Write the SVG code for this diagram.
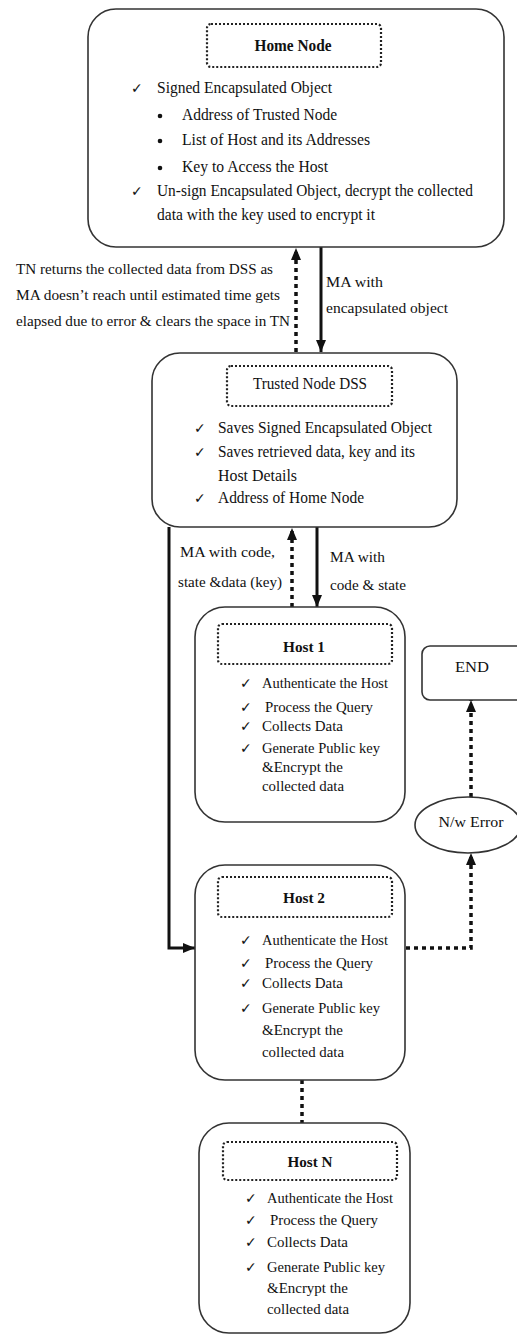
<svg xmlns="http://www.w3.org/2000/svg" width="517" height="1336" viewBox="0 0 517 1336">
<style>
.box{fill:#fff;stroke:#333;stroke-width:1.6}
.ttl{fill:none;stroke:#222;stroke-width:2.2;stroke-dasharray:2 2}
.t{font-family:"Liberation Serif","Times New Roman",serif;font-size:16px;fill:#111}
.s{font-family:"Liberation Serif","Times New Roman",serif;font-size:15px;fill:#111}
.b{font-weight:bold}
.c{text-anchor:middle}
.ck{font-family:"DejaVu Sans",sans-serif;font-size:14px;fill:#111}
.solid{fill:none;stroke:#111;stroke-width:3}
.dot{fill:none;stroke:#111;stroke-width:3.5;stroke-dasharray:4 4}
</style>
<defs>
<marker id="ah" viewBox="0 0 12 10" refX="12" refY="5" markerWidth="12" markerHeight="10" markerUnits="userSpaceOnUse" orient="auto">
<path d="M0,0 L12,5 L0,10 z" fill="#111"/>
</marker>
</defs>
<g id="connectors">
<line class="solid" x1="321" y1="247" x2="321" y2="352" marker-end="url(#ah)"/>
<line class="dot" x1="296" y1="352" x2="296" y2="248" marker-end="url(#ah)"/>
<line class="solid" x1="317" y1="527" x2="317" y2="607" marker-end="url(#ah)"/>
<line class="dot" x1="292" y1="607" x2="292" y2="528" marker-end="url(#ah)"/>
<path class="solid" d="M169,527 V948 H195" stroke-width="3.5" marker-end="url(#ah)"/>
<path class="dot" d="M406,948 H471 V853" marker-end="url(#ah)"/>
<line class="dot" x1="471" y1="797" x2="471" y2="700" marker-end="url(#ah)"/>
<line class="dot" x1="302" y1="1080" x2="302" y2="1123" stroke-width="3" stroke-dasharray="3 7"/>
<text class="s" x="16" y="274" textLength="257" lengthAdjust="spacingAndGlyphs">TN returns the collected data from DSS as</text>
<text class="s" x="16" y="300" textLength="264" lengthAdjust="spacingAndGlyphs">MA doesn’t reach until estimated time gets</text>
<text class="s" x="16" y="326" textLength="274" lengthAdjust="spacingAndGlyphs">elapsed due to error &amp; clears  the space in TN</text>
<text class="s" x="326" y="287" textLength="57" lengthAdjust="spacingAndGlyphs">MA with</text>
<text class="s" x="326" y="313" textLength="122" lengthAdjust="spacingAndGlyphs">encapsulated object</text>
<text class="s" x="180" y="557" textLength="95" lengthAdjust="spacingAndGlyphs">MA with code,</text>
<text class="s" x="178" y="587" textLength="104" lengthAdjust="spacingAndGlyphs">state &amp;data (key)</text>
<text class="s" x="330" y="562" textLength="55" lengthAdjust="spacingAndGlyphs">MA with</text>
<text class="s" x="330" y="590" textLength="76" lengthAdjust="spacingAndGlyphs">code &amp; state</text>
</g>
<g id="home">
<rect class="box" x="88" y="9" width="416" height="238" rx="28"/>
<rect class="ttl" x="207" y="24" width="174" height="43" rx="4"/>
<text class="t b c" x="293" y="51" textLength="77" lengthAdjust="spacingAndGlyphs">Home Node</text>
<text class="ck" x="131" y="93">✓</text>
<text class="t" x="157" y="93" textLength="175" lengthAdjust="spacingAndGlyphs">Signed Encapsulated Object</text>
<circle cx="160" cy="116" r="2.3" fill="#111"/>
<text class="t" x="182" y="120" textLength="155" lengthAdjust="spacingAndGlyphs">Address of Trusted Node</text>
<circle cx="160" cy="141" r="2.3" fill="#111"/>
<text class="t" x="182" y="145" textLength="188" lengthAdjust="spacingAndGlyphs">List of Host and its Addresses</text>
<circle cx="160" cy="168" r="2.3" fill="#111"/>
<text class="t" x="182" y="172" textLength="146" lengthAdjust="spacingAndGlyphs">Key to Access the Host</text>
<text class="ck" x="131" y="196">✓</text>
<text class="t" x="157" y="196" textLength="316" lengthAdjust="spacingAndGlyphs">Un-sign Encapsulated Object, decrypt the collected</text>
<text class="t" x="157" y="220" textLength="218" lengthAdjust="spacingAndGlyphs">data with the key used to encrypt it</text>
</g>
<g id="trusted">
<rect class="box" x="152" y="353" width="305" height="174" rx="28"/>
<rect class="ttl" x="227" y="366" width="165" height="40" rx="4"/>
<text class="t" x="253" y="389" textLength="114" lengthAdjust="spacingAndGlyphs">Trusted Node DSS</text>
<text class="ck" x="194" y="433">✓</text>
<text class="t" x="218" y="433" textLength="214" lengthAdjust="spacingAndGlyphs">Saves Signed Encapsulated Object</text>
<text class="ck" x="194" y="457">✓</text>
<text class="t" x="218" y="457" textLength="197" lengthAdjust="spacingAndGlyphs">Saves retrieved data, key and its</text>
<text class="t" x="218" y="481" textLength="79" lengthAdjust="spacingAndGlyphs">Host Details</text>
<text class="ck" x="194" y="503">✓</text>
<text class="t" x="218" y="503" textLength="146" lengthAdjust="spacingAndGlyphs">Address of Home Node</text>
</g>
<g id="host1">
<rect class="box" x="195" y="607" width="210" height="215" rx="30"/>
<rect class="ttl" x="218" y="624" width="174" height="40" rx="4"/>
<text class="s b c" x="304" y="652" textLength="42" lengthAdjust="spacingAndGlyphs">Host 1</text>
<text class="ck" x="240" y="688">✓</text>
<text class="s" x="262" y="688" textLength="126" lengthAdjust="spacingAndGlyphs">Authenticate the Host</text>
<text class="ck" x="240" y="712">✓</text>
<text class="s" x="265" y="712" textLength="108" lengthAdjust="spacingAndGlyphs">Process the Query</text>
<text class="ck" x="240" y="731">✓</text>
<text class="s" x="262" y="731" textLength="81" lengthAdjust="spacingAndGlyphs">Collects Data</text>
<text class="ck" x="240" y="753">✓</text>
<text class="s" x="262" y="753" textLength="118" lengthAdjust="spacingAndGlyphs">Generate Public key</text>
<text class="s" x="262" y="772" textLength="81" lengthAdjust="spacingAndGlyphs">&amp;Encrypt the</text>
<text class="s" x="262" y="791" textLength="82" lengthAdjust="spacingAndGlyphs">collected data</text>
</g>
<g id="end">
<rect class="box" x="422" y="646" width="110" height="54" rx="8"/>
<text class="s c" x="472" y="672" textLength="34" lengthAdjust="spacingAndGlyphs">END</text>
</g>
<g id="error">
<ellipse class="box" cx="468" cy="825" rx="53" ry="28"/>
<text class="s c" x="471" y="827" textLength="65" lengthAdjust="spacingAndGlyphs">N/w Error</text>
</g>
<g id="host2">
<rect class="box" x="195" y="865" width="210" height="215" rx="30"/>
<rect class="ttl" x="218" y="877" width="174" height="40" rx="4"/>
<text class="s b c" x="304" y="903" textLength="42" lengthAdjust="spacingAndGlyphs">Host 2</text>
<text class="ck" x="240" y="945">✓</text>
<text class="s" x="262" y="945" textLength="126" lengthAdjust="spacingAndGlyphs">Authenticate the Host</text>
<text class="ck" x="240" y="968">✓</text>
<text class="s" x="265" y="968" textLength="108" lengthAdjust="spacingAndGlyphs">Process the Query</text>
<text class="ck" x="240" y="988">✓</text>
<text class="s" x="262" y="988" textLength="81" lengthAdjust="spacingAndGlyphs">Collects Data</text>
<text class="ck" x="240" y="1013">✓</text>
<text class="s" x="262" y="1013" textLength="118" lengthAdjust="spacingAndGlyphs">Generate Public key</text>
<text class="s" x="262" y="1035" textLength="81" lengthAdjust="spacingAndGlyphs">&amp;Encrypt the</text>
<text class="s" x="262" y="1057" textLength="82" lengthAdjust="spacingAndGlyphs">collected data</text>
</g>
<g id="hostN">
<rect class="box" x="199" y="1123" width="211" height="210" rx="30"/>
<rect class="ttl" x="223" y="1142" width="174" height="38" rx="4"/>
<text class="s b c" x="310" y="1167" textLength="45" lengthAdjust="spacingAndGlyphs">Host N</text>
<text class="ck" x="245" y="1203">✓</text>
<text class="s" x="267" y="1203" textLength="126" lengthAdjust="spacingAndGlyphs">Authenticate the Host</text>
<text class="ck" x="245" y="1225">✓</text>
<text class="s" x="270" y="1225" textLength="108" lengthAdjust="spacingAndGlyphs">Process the Query</text>
<text class="ck" x="245" y="1247">✓</text>
<text class="s" x="267" y="1247" textLength="81" lengthAdjust="spacingAndGlyphs">Collects Data</text>
<text class="ck" x="245" y="1272">✓</text>
<text class="s" x="267" y="1272" textLength="118" lengthAdjust="spacingAndGlyphs">Generate Public key</text>
<text class="s" x="267" y="1293" textLength="81" lengthAdjust="spacingAndGlyphs">&amp;Encrypt the</text>
<text class="s" x="267" y="1314" textLength="82" lengthAdjust="spacingAndGlyphs">collected data</text>
</g>
</svg>
